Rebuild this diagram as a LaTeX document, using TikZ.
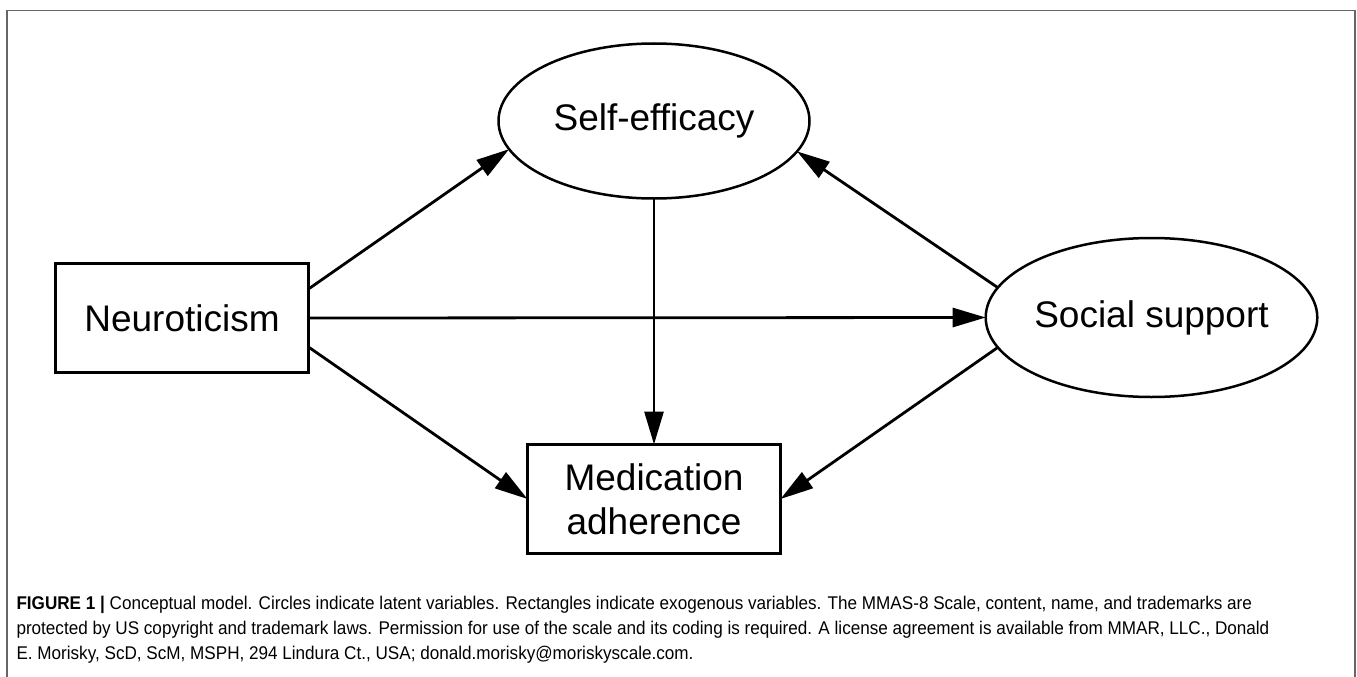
\documentclass[tikz,border=0pt]{standalone}
\usepackage{fontspec}
\setmainfont{Liberation Sans}
\newfontfamily\capfont[FakeStretch=0.93]{Liberation Sans}
\usetikzlibrary{arrows.meta,shapes.geometric}
\begin{document}
\begin{tikzpicture}[x=1pt,y=-1pt,
  every node/.style={inner sep=0pt, outer sep=0pt},
  box/.style={draw, line width=2.7pt, minimum width=253pt, minimum height=109pt, align=center, font=\fontsize{37}{44}\selectfont},
  oval/.style={draw, ellipse, line width=2.5pt, minimum width=311pt, minimum height=155pt, font=\fontsize{37}{44}\selectfont},
  link/.style={line width=2.8pt, -{Triangle[length=33pt,width=19pt]}},
  frame/.style={draw=black!60, line width=1.8pt},
  captext/.style={anchor=north west, align=left, font=\capfont\fontsize{18.4}{25.3}\selectfont}
]
\useasboundingbox (0,0) rectangle (1357,677);
\draw[frame] (7,677) -- (7,10.5) -- (1355,10.5) -- (1355,677);

\node[box] (neu) at (182,318) {Neuroticism};
\node[box] (med) at (654,499) {Medication\\adherence};
\node[oval] (self) at (654,121) {Self-efficacy};
\node[oval, minimum height=159pt] (soc) at (1151.5,317.5) {Social support};

\draw[link] ([yshift=29pt]neu.east) -- (self.191);
\draw[link] (neu.east) -- (soc.west);
\draw[link] ([yshift=-29pt]neu.east) -- (med.west);
\draw[link] (self.south) -- (med.north);
\draw[link] (soc.169.6) -- (self.348.8);
\draw[link] (soc.191.2) -- (med.east);

\node[captext] (cap) at (16.5,596)
{\textbf{FIGURE 1 |} Conceptual model. Circles indicate latent variables. Rectangles indicate exogenous variables. The MMAS-8 Scale, content, name, and trademarks are\\
protected by US copyright and trademark laws. Permission for use of the scale and its coding is required. A license agreement is available from MMAR, LLC., Donald\\
E. Morisky, ScD, ScM, MSPH, 294 Lindura Ct., USA; donald.morisky@moriskyscale.com.};
\end{tikzpicture}
\end{document}
